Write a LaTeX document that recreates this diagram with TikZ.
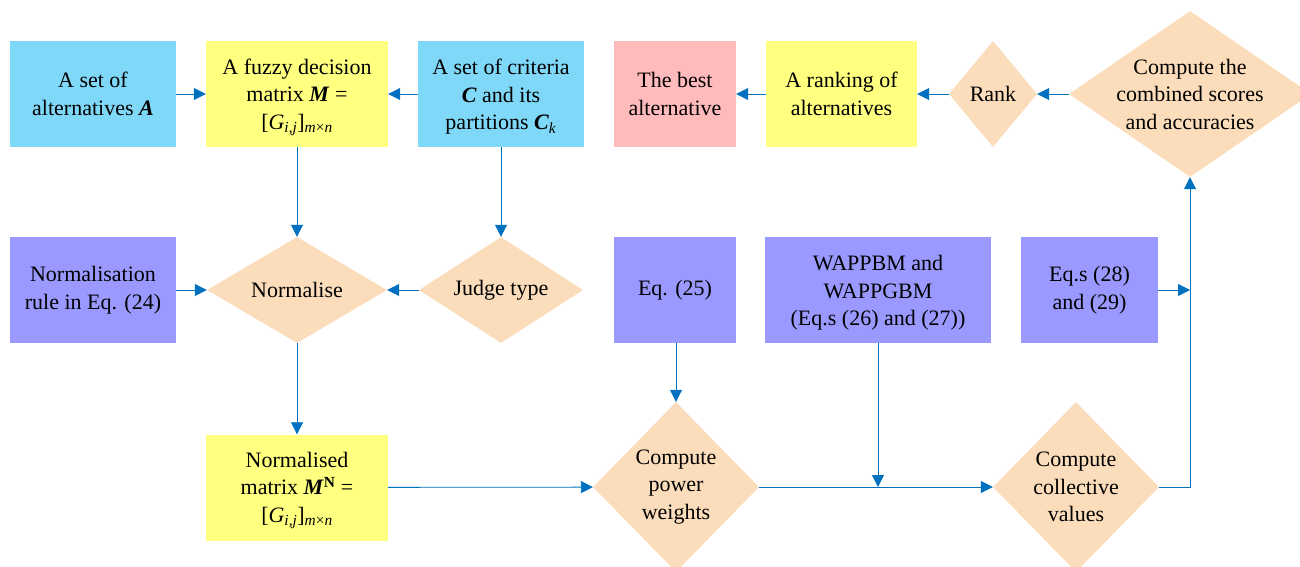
\documentclass[tikz,border=0pt]{standalone}
\usepackage{fontspec}
\setmainfont{Liberation Serif}
\usetikzlibrary{shapes.geometric,arrows.meta}
\definecolor{cblue}{RGB}{128,216,248}
\definecolor{cyellow}{RGB}{255,255,128}
\definecolor{cpink}{RGB}{255,187,187}
\definecolor{cpurple}{RGB}{153,153,255}
\definecolor{cpeach}{RGB}{252,221,187}
\definecolor{carrow}{RGB}{0,112,192}
\tikzset{
  box/.style={rectangle, inner sep=0pt, align=center},
  dia/.style={diamond, fill=cpeach, inner sep=0pt},
  dtext/.style={align=center, inner sep=0pt},
  arr/.style={draw=carrow, line width=0.8pt, -{Triangle[length=12pt,width=12pt]}},
}
\newcommand{\bi}[1]{\textbf{\textit{#1}}}
\newcommand{\Gmat}{[\textit{G}\textsubscript{\textit{i,j}}]\textsubscript{\textit{m}×\textit{n}}}
\begin{document}
\begin{tikzpicture}[x=1pt,y=-1pt,font=\rmfamily\fontsize{22}{27.5}\selectfont]
\useasboundingbox (0,0) rectangle (1300,566);
% row 1
\node[box, fill=cblue, minimum width=166, minimum height=106] (A) at (93,94) {A set of\\alternatives \bi{A}};
\node[box, fill=cyellow, minimum width=182, minimum height=106, label={[dtext,yshift=-3pt]center:{A fuzzy decision\\matrix \bi{M} =\\\Gmat}}] (M) at (297,94) {};
\node[box, fill=cblue, minimum width=166, minimum height=106, label={[dtext,yshift=-3pt]center:{A set of criteria\\\bi{C} and its\\partitions \bi{C}\textsubscript{\textit{k}}}}] (C) at (501,94) {};
\node[box, fill=cpink, minimum width=122, minimum height=106] (Best) at (675,94) {The best\\alternative};
\node[box, fill=cyellow, minimum width=151, minimum height=106] (Rkg) at (841.5,94) {A ranking of\\alternatives};
\node[dia, minimum width=88, minimum height=106, label={[dtext]center:Rank}] (Rank) at (993,94) {};
\node[dia, minimum width=242, minimum height=166, label={[dtext]center:{Compute the\\combined scores\\and accuracies}}] (Comb) at (1190,94) {};
% row 2
\node[box, fill=cpurple, minimum width=166, minimum height=106] (Rule) at (93,290) {Normalisation\\rule in Eq. (24)};
\node[dia, minimum width=180, minimum height=106, label={[dtext]center:Normalise}] (Norm) at (297,290) {};
\node[dia, minimum width=164, minimum height=106, label={[dtext]center:Judge type}] (Judge) at (501,290) {};
\node[box, fill=cpurple, minimum width=122, minimum height=106] (Eq25) at (675,290) {Eq. (25)};
\node[box, fill=cpurple, minimum width=226, minimum height=106, label={[dtext,yshift=-3pt]center:{WAPPBM and\\WAPPGBM\\(Eq.s (26) and (27))}}] (WAP) at (878,290) {};
\node[box, fill=cpurple, minimum width=137, minimum height=106] (Eq28) at (1089.5,290) {Eq.s (28)\\and (29)};
% row 3
\node[box, fill=cyellow, minimum width=182, minimum height=106, label={[dtext,yshift=-3pt]center:{Normalised\\matrix \bi{M}\textsuperscript{\textbf{N}} =\\\Gmat}}] (MN) at (297,487.5) {};
\node[dia, minimum width=166, minimum height=170, label={[dtext]center:{Compute\\power\\weights}}] (PW) at (676,487) {};
\node[dia, minimum width=166, minimum height=170, label={[dtext]center:{Compute\\collective\\values}}] (CV) at (1076,487) {};
% connectors
\draw[arr] (A) -- (M);
\draw[arr] (C) -- (M);
\draw[arr] (M) -- (Norm);
\draw[arr] (C) -- (Judge);
\draw[arr] (Judge) -- (Norm);
\draw[arr] (Rule) -- (Norm);
\draw[arr] (Norm) -- (MN);
\draw[arr] (MN) -- (PW);
\draw[arr] (Eq25.south -| PW.north) -- (PW.north);
\draw[arr] (PW) -- (CV);
\coordinate (J) at (WAP.south |- PW.east);
\draw[arr] (WAP.south) -- (J);
\draw[arr] (CV.east) -| (Comb.south);
\draw[arr] (Eq28.east) -- (Eq28.east -| Comb.south);
\draw[arr] (Comb) -- (Rank);
\draw[arr] (Rank) -- (Rkg);
\draw[arr] (Rkg) -- (Best);
\end{tikzpicture}
\end{document}
